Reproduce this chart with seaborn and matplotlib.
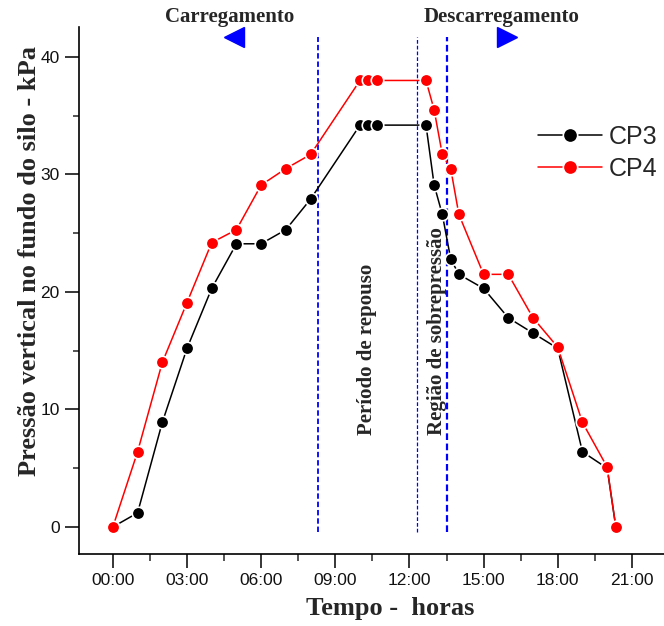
import matplotlib
matplotlib.use("Agg")
import matplotlib.pyplot as plt
from matplotlib.ticker import MultipleLocator, FuncFormatter
import seaborn as sns
import pandas as pd

# Time of each reading (hours since start of filling)
tempo_h = [0, 1, 2, 3, 4, 5, 6, 7, 8, 10, 10.33, 10.67, 12.67, 13.0, 13.33,
           13.67, 14, 15, 16, 17, 18, 19, 20, 20.35]
# Vertical pressure on the silo floor (kPa)
cp3 = [0, 1.2, 8.9, 15.2, 20.3, 24.1, 24.1, 25.3, 27.9, 34.2, 34.2, 34.2, 34.2,
       29.1, 26.6, 22.8, 21.5, 20.3, 17.8, 16.5, 15.2, 6.4, 5.0, 0]
cp4 = [0, 6.4, 14.0, 19.1, 24.2, 25.3, 29.1, 30.5, 31.7, 38.0, 38.0, 38.0, 38.0,
       35.5, 31.7, 30.5, 26.6, 21.5, 21.5, 17.8, 15.3, 8.9, 5.1, 0]
series_names = ["CP3", "CP4"]
# Phase boundaries (hours): end of filling, start and end of overpressure region
phase_bounds = [8.32, 12.32, 13.53]
x_ticks = [0, 3, 6, 9, 12, 15, 18, 21]
y_ticks = [0, 10, 20, 30, 40]

df = pd.DataFrame({
    "tempo": tempo_h * 2,
    "pressao": cp3 + cp4,
    "serie": [series_names[0]] * len(cp3) + [series_names[1]] * len(cp4),
})

sns.set_style("ticks")
plt.rcParams["font.family"] = ["Liberation Sans", "DejaVu Sans"]

W, H = 664, 626
fig = plt.figure(figsize=(W / 100, H / 100), dpi=100)
ax = fig.add_axes([79 / W, 1 - 554 / H, 1 - 79 / W, (554 - 27) / H])

colors = {"CP3": "black", "CP4": "#ff0000"}
for name in series_names:
    sns.lineplot(data=df[df.serie == name], x="tempo", y="pressao",
                 color=colors[name], marker="o", markersize=9,
                 markeredgecolor="white", markeredgewidth=1.2,
                 linewidth=1.1, estimator=None, sort=False, ax=ax,
                 label=name, zorder=3)

ax.set_xlim(-1.37, 22.3)
ax.set_ylim(-2.3, 42.55)

# Phase boundary lines
styles = [dict(lw=1.3), dict(lw=0.9), dict(lw=1.6)]
for xb, st in zip(phase_bounds, styles):
    ax.plot([xb, xb], [-0.4, 41.7], color="#0000ff", ls=(0, (3, 1.6)),
            zorder=2, **st)

# Direction arrows
ax.plot([4.89], [41.7], marker="<", color="#0000ff", markersize=15,
        clip_on=False, zorder=4)
ax.plot([15.95], [41.7], marker=">", color="#0000ff", markersize=15,
        clip_on=False, zorder=4)

ax.xaxis.set_major_formatter(FuncFormatter(lambda v, p: f"{int(round(v)):02d}:00"))
ax.set_xticks(x_ticks)
ax.xaxis.set_minor_locator(MultipleLocator(1.5))
ax.set_yticks(y_ticks)
ax.yaxis.set_minor_locator(MultipleLocator(5))

ax.tick_params(axis="both", which="major", labelsize=12.5, length=10,
               width=1.1, color="black", labelcolor="#111111", pad=4)
ax.tick_params(axis="x", which="minor", length=5, width=1.1)
ax.tick_params(axis="y", which="minor", length=4, width=1.1)
for s in ["left", "bottom"]:
    ax.spines[s].set_linewidth(1.2)
    ax.spines[s].set_color("black")
sns.despine(ax=ax)
ax.set_xlabel("")
ax.set_ylabel("")

serif = dict(family=["Liberation Serif", "DejaVu Serif"], weight="bold")
fig.text(390 / W, 1 - 609 / H, "Tempo -  horas", ha="center", va="center",
         fontsize=19, **serif)
fig.text(30 / W, 1 - 261 / H, "Pressão vertical no fundo do silo - kPa",
         rotation=90, ha="center", va="center", fontsize=19, **serif)

fig.text(230 / W, 1 - 17 / H, "Carregamento", ha="center", va="center",
         fontsize=15, **serif)
fig.text(502 / W, 1 - 17 / H, "Descarregamento", ha="center", va="center",
         fontsize=15, **serif)

ax.text(10.3, 15.1, "Período de repouso", rotation=90, ha="center",
        va="center", fontsize=15, **serif)
ax.text(13.1, 16.7, "Região de sobrepressão", rotation=90, ha="center",
        va="center", fontsize=15, **serif)

leg = ax.legend(loc="upper left", bbox_to_anchor=(538 / W, 1 - 125 / H),
                bbox_transform=fig.transFigure, frameon=False, fontsize=18,
                handlelength=2.55, handletextpad=0.28, borderpad=0,
                borderaxespad=0, labelspacing=0.32, markerscale=1.15)

fig.savefig("out.png", dpi=100)
